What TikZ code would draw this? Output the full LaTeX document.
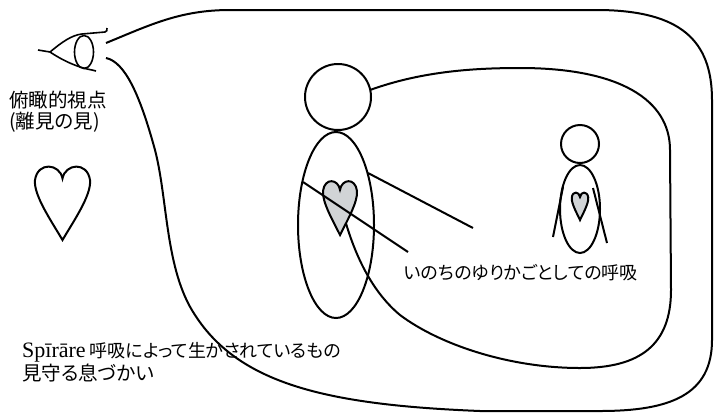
\documentclass[tikz,border=0pt]{standalone}
\usepackage{fontspec}
\newfontfamily\jp[RawFeature=+palt]{Noto Sans CJK JP}
\newfontfamily\latin{Liberation Serif}
\definecolor{heartgray}{rgb}{0.82,0.83,0.84}

\tikzset{
  stroke/.style={black, line width=2pt},
  txt/.style={anchor=west, inner sep=0pt, font=\fontsize{18}{20}\selectfont\jp},
  bigtxt/.style={txt, font=\fontsize{19.5}{21}\selectfont\jp},
  heart/.pic={
    \path[pic actions] (0,0.18) .. controls (0.05,-0.02) and (0.45,-0.05) .. (0.5,0.2)
      .. controls (0.53,0.4) and (0.2,0.75) .. (0,1)
      .. controls (-0.2,0.75) and (-0.53,0.4) .. (-0.5,0.2)
      .. controls (-0.45,-0.05) and (-0.05,-0.02) .. (0,0.18) -- cycle;
  }
}

\begin{document}
\begin{tikzpicture}[x=1pt, y=-1pt]
            \useasboundingbox (0,0) rectangle (714,413);

            % eye
            \draw[stroke, line width=1.6pt] (38,50) -- (50,52) .. controls (62,42) and (72,35) .. (82,34) -- (105,32) .. controls (107,32) and (107,30) .. (107,28);
            \draw[stroke, line width=1.6pt] (50,52) .. controls (65,62) and (80,68) .. (92,70) -- (96,71);
            \draw[stroke, line width=1.6pt] (84,52) ellipse (9.5 and 16.5);

            % outer outline
            \draw[stroke] (106,43) .. controls (150,25) and (180,10) .. (230,10) -- (600,10)
                .. controls (680,11) and (712,40) .. (712,100) -- (712,340)
                .. controls (712,395) and (670,411) .. (600,411) -- (480,411)
                .. controls (330,405) and (240,385) .. (195,315)
                .. controls (165,270) and (168,200) .. (155,150)
                .. controls (140,95) and (125,62) .. (106,58);

            % inner outline
            \draw[stroke] (370,90) .. controls (420,72) and (470,68) .. (520,68)
                .. controls (620,68) and (670,100) .. (670,150) -- (671,290)
                .. controls (671,345) and (640,368) .. (580,368)
                .. controls (510,368) and (440,345) .. (400,315)
                .. controls (370,290) and (352,250) .. (341,205);

            % big figure
            \draw[stroke] (338,97) circle (33);
            \draw[stroke] (336,225) ellipse (38 and 93);
            \pic[draw, fill=heartgray, line width=2pt, xscale=34, yscale=55] at (340,180) {heart};
            \draw[stroke] (303,182) -- (408,252);
            \draw[stroke] (368,173) -- (473,228);

            % small figure
            \draw[stroke] (580,144) circle (19);
            \draw[stroke] (580,209) ellipse (20 and 44);
            \pic[draw, fill=heartgray, line width=2pt, xscale=16.5, yscale=28] at (580,192) {heart};
            \draw[stroke] (563,187) -- (553,237);
            \draw[stroke] (593,188) -- (607,243);

            % empty heart
            \pic[draw, line width=2pt, xscale=55, yscale=75] at (62.5,165) {heart};

            \node[bigtxt] (view) at (9,100) {俯瞰的視点};
            \node[bigtxt] (riken) at (9,122) {(離見の見)};
            \node[txt] (cradle) at (404,273) {いのちのゆりかごとしての呼吸};
            \node[txt] (spirare) at (22,352) {{\latin\fontsize{22}{24}\selectfont Spīrāre} 呼吸によって生かされているもの};
            \node[bigtxt] (watch) at (22,373) {見守る息づかい};
\end{tikzpicture}
\end{document}
